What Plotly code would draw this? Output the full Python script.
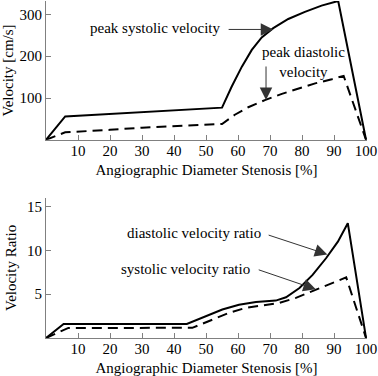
import plotly.graph_objects as go

# ---- top panel: velocities [cm/s] vs stenosis [%]
sys_x = [0, 6, 55, 58, 61.2, 64.3, 67.4, 71, 75.7, 80.9, 86.1, 91.3, 100]
sys_y = [0, 56, 77, 127, 175, 215, 245, 267, 289, 306, 321, 332, 0]
dia_x = [0, 6, 20, 30, 55, 59, 63.2, 68.4, 73.7, 78.8, 84.1, 89.3, 93, 100]
dia_y = [0, 18, 24, 29, 38, 60, 78, 95, 110, 123, 135, 145, 153, 0]

# ---- bottom panel: velocity ratios
dr_x = [0, 5.5, 44, 49.9, 55.1, 60.3, 65.6, 71.8, 75, 79.2, 83.3, 87.5, 91.2, 94.3, 100]
dr_y = [0, 1.6, 1.6, 2.5, 3.25, 3.8, 4.1, 4.27, 4.65, 5.7, 7.2, 9.1, 11.0, 13.1, 0]
sr_x = [0, 7, 45.7, 52, 57.2, 62.4, 67.6, 72.9, 78.1, 83.3, 88.6, 93.8, 100]
sr_y = [0, 1.15, 1.16, 2.1, 2.87, 3.44, 3.74, 4.0, 4.58, 5.33, 6.17, 6.92, 0]

x_ticks = [10, 20, 30, 40, 50, 60, 70, 80, 90, 100]
top_ticks = [100, 200, 300]
bot_ticks = [5, 10, 15]

FONT = '"Liberation Serif", "Times New Roman", serif'
FS = 15

fig = go.Figure()
fig.add_trace(go.Scatter(x=sys_x, y=sys_y, mode="lines", line=dict(color="black", width=2),
                         xaxis="x", yaxis="y", showlegend=False))
fig.add_trace(go.Scatter(x=dia_x, y=dia_y, mode="lines", line=dict(color="black", width=2, dash="10px,6px"),
                         xaxis="x", yaxis="y", showlegend=False))
fig.add_trace(go.Scatter(x=dr_x, y=dr_y, mode="lines", line=dict(color="black", width=2),
                         xaxis="x2", yaxis="y2", showlegend=False))
fig.add_trace(go.Scatter(x=sr_x, y=sr_y, mode="lines", line=dict(color="black", width=2, dash="10px,6px"),
                         xaxis="x2", yaxis="y2", showlegend=False))

axcommon = dict(showline=True, linecolor="#808080", linewidth=1, ticks="inside", ticklen=5,
                tickcolor="#808080", showgrid=False, zeroline=False, automargin=False,
                tickfont=dict(family=FONT, size=FS, color="black"))
xtitle = dict(text="Angiographic Diameter Stenosis [%]", font=dict(family=FONT, size=FS, color="black"), standoff=6)

fig.update_layout(
    width=378, height=376,
    margin=dict(l=46, r=11, t=1, b=37.5),
    paper_bgcolor="white", plot_bgcolor="white",
    font=dict(family=FONT, size=FS, color="black"),
    xaxis=dict(domain=[0, 1], range=[0, 100.3], tickvals=x_ticks, anchor="y", title=xtitle,
               ticklabelstandoff=-3, **axcommon),
    yaxis=dict(domain=[0.588, 1], range=[0, 332], tickvals=top_ticks, anchor="x",
               title=dict(text="Velocity [cm/s]", font=dict(family=FONT, size=FS, color="black"), standoff=6),
               **axcommon),
    xaxis2=dict(domain=[0, 1], range=[0, 100.3], tickvals=x_ticks, anchor="y2", title=xtitle,
                ticklabelstandoff=-3, **axcommon),
    yaxis2=dict(domain=[0, 0.416], range=[0, 16], tickvals=bot_ticks, anchor="x2",
                title=dict(text="Velocity Ratio", font=dict(family=FONT, size=FS, color="black"), standoff=6),
                **axcommon),
)

tf = dict(family=FONT, size=FS, color="black")
ann = [
    dict(xref="x", yref="y", x=55, y=267, text="peak systolic velocity", showarrow=False,
         xanchor="right", yanchor="middle", font=tf),
    dict(xref="x", yref="y", x=80.5, y=187, text="peak diastolic<br>velocity", showarrow=False,
         xanchor="center", yanchor="middle", font=tf),
    dict(xref="x2", yref="y2", x=67.9, y=12.0, text="diastolic velocity ratio", showarrow=False,
         xanchor="right", yanchor="middle", font=tf),
    dict(xref="x2", yref="y2", x=64.4, y=7.84, text="systolic velocity ratio", showarrow=False,
         xanchor="right", yanchor="middle", font=tf),
]
arrows = [
    ("x", "y", 71.0, 264, 56.6, 264),
    ("x", "y", 68.75, 95, 68.75, 179),
    ("x2", "y2", 87.9, 9.54, 69.1, 11.8),
    ("x2", "y2", 84.3, 5.56, 66.0, 7.84),
]
for xr, yr, x, y, axv, ayv in arrows:
    ann.append(dict(xref=xr, yref=yr, x=x, y=y, axref=xr, ayref=yr, ax=axv, ay=ayv, text="",
                    showarrow=True, arrowhead=2, arrowsize=2.5, arrowwidth=1, arrowcolor="#333333",
                    standoff=0, startstandoff=0))
fig.update_layout(annotations=ann)

fig.write_html("out.html", config={"displayModeBar": False},
               post_script="document.body.style.margin='0';document.body.style.padding='0';")
